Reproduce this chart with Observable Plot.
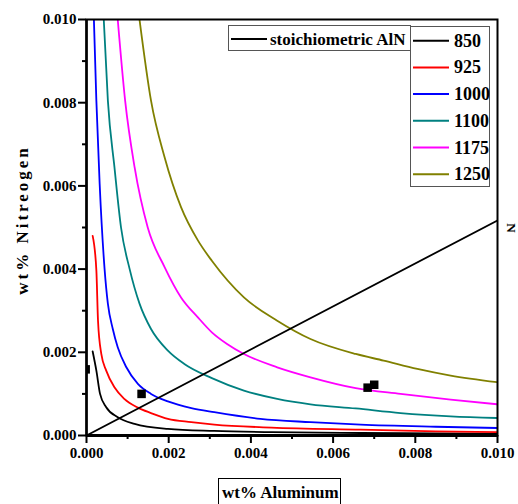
<!DOCTYPE html>
<html><head><meta charset="utf-8">
<script src="https://cdn.jsdelivr.net/npm/d3@7"></script>
<script src="https://cdn.jsdelivr.net/npm/@observablehq/plot@0.6"></script>
<style>body{margin:0;background:#fff;}#chart{position:relative;width:518px;height:504px;}</style>
</head><body><div id="chart"></div>
<script>
// Temperatures (°C)
const seriesNames = ["850", "925", "1000", "1100", "1175", "1250"];
const seriesColors = ["#000000", "#ff0000", "#0000ff", "#008080", "#ff00ff", "#808000"];

// wt% Al / wt% N
const al850 = [0.00015, 0.00024, 0.00033, 0.00048, 0.00076, 0.00117, 0.00198, 0.00311, 0.0045, 0.00667, 0.0085, 0.0100];
const n850  = [0.00202, 0.00156, 0.00100, 0.00068, 0.00044, 0.00028, 0.00016, 0.00011, 0.00008, 0.00006, 0.00005, 0.00004];
const al925 = [0.00015, 0.00024, 0.00028, 0.00036, 0.00048, 0.00068, 0.00092, 0.00125, 0.00157, 0.00198, 0.00255, 0.00311, 0.0045, 0.00667, 0.0085, 0.0100];
const n925  = [0.0048, 0.00397, 0.00276, 0.00196, 0.00156, 0.00116, 0.00088, 0.00067, 0.00054, 0.0004, 0.00032, 0.00026, 0.00019, 0.00014, 0.0001, 0.00008];
const al1000 = [0.00018, 0.00024, 0.00032, 0.00044, 0.00052, 0.00064, 0.00076, 0.00097, 0.00125, 0.00157, 0.00198, 0.00255, 0.00311, 0.00423, 0.00545, 0.00667, 0.0085, 0.0100];
const n1000  = [0.0100, 0.00805, 0.00605, 0.0040, 0.00317, 0.00256, 0.00212, 0.00164, 0.00124, 0.0010, 0.00082, 0.00066, 0.00056, 0.0004, 0.00032, 0.00026, 0.00021, 0.00018];
const al1100 = [0.00042, 0.00052, 0.00068, 0.00084, 0.00105, 0.00129, 0.00157, 0.00198, 0.00238, 0.00305, 0.00383, 0.00464, 0.00545, 0.00655, 0.00764, 0.00886, 0.0100];
const n1100  = [0.0100, 0.00805, 0.00645, 0.0050, 0.0040, 0.00317, 0.00256, 0.00204, 0.00172, 0.00138, 0.00108, 0.00088, 0.00075, 0.00065, 0.00054, 0.00046, 0.00042];
const al1175 = [0.00076, 0.00094, 0.00117, 0.00149, 0.0019, 0.0023, 0.00271, 0.00305, 0.00342, 0.00383, 0.00464, 0.00545, 0.00655, 0.00764, 0.00886, 0.0100];
const n1175  = [0.0100, 0.00805, 0.00645, 0.0050, 0.00405, 0.00332, 0.00284, 0.00248, 0.0022, 0.00196, 0.00164, 0.0014, 0.00114, 0.0010, 0.00086, 0.00075];
const al1250 = [0.00129, 0.00157, 0.0019, 0.0023, 0.00271, 0.00305, 0.00383, 0.00464, 0.00545, 0.00655, 0.00723, 0.00805, 0.00886, 0.0100];
const n1250  = [0.0100, 0.00805, 0.00669, 0.00549, 0.00469, 0.0042, 0.00332, 0.00276, 0.00232, 0.00196, 0.0018, 0.0016, 0.00144, 0.00128];

// stoichiometric AlN line
const stoichAl = [0, 0.0100];
const stoichN  = [0, 0.00517];

// measured points
const ptAl = [-0.00002, 0.00134, 0.00684, 0.0070];
const ptN  = [0.00159, 0.00100, 0.00115, 0.00122];

const majorTicks = [0, 0.002, 0.004, 0.006, 0.008, 0.010];
const minorTicks = [0.001, 0.003, 0.005, 0.007, 0.009];

const xs = [al850, al925, al1000, al1100, al1175, al1250];
const ys = [n850, n925, n1000, n1100, n1175, n1250];
const curves = seriesNames.flatMap((s, i) => xs[i].map((a, j) => ({series: s, al: a, n: ys[i][j]})));
const stoich = stoichAl.map((a, i) => ({al: a, n: stoichN[i]}));
const points = ptAl.map((a, i) => ({al: a, n: ptN[i]}));

const font = "'Liberation Serif', 'Times New Roman', serif";

const plot = Plot.plot({
  width: 518, height: 504,
  marginLeft: 86, marginRight: 21, marginTop: 19, marginBottom: 69,
  style: {fontFamily: font, fontWeight: "bold", fontSize: "15px", color: "#000", background: "#fff"},
  x: {domain: [0, 0.010]},
  y: {domain: [0, 0.010]},
  color: {domain: seriesNames, range: seriesColors},
  marks: [
    Plot.line(curves, {x: "al", y: "n", stroke: "series", strokeWidth: 1.8, curve: "monotone-x", clip: true}),
    Plot.line(stoich, {x: "al", y: "n", stroke: "#000", strokeWidth: 1.8, clip: true}),
    Plot.dot(points, {x: "al", y: "n", symbol: "square", r: 4.8, fill: "#000", clip: "frame"}),
    Plot.frame({stroke: "#000", strokeWidth: 2}),
    Plot.ruleY([0], {stroke: "#000", strokeWidth: 3}),
    Plot.ruleX([0], {stroke: "#000", strokeWidth: 2.5}),
    Plot.axisX(majorTicks, {tickSize: 8, tickPadding: 4, strokeWidth: 2, tickFormat: d3.format(".3f"), label: null, fontSize: 15}),
    Plot.axisX(minorTicks, {tickSize: 4, strokeWidth: 2, tickFormat: () => "", label: null}),
    Plot.axisY(majorTicks, {tickSize: 8, tickPadding: 2, strokeWidth: 2, tickFormat: d3.format(".3f"), label: null, fontSize: 15}),
    Plot.axisY(minorTicks, {tickSize: 4, strokeWidth: 2, tickFormat: () => "", label: null})
  ]
});
document.getElementById("chart").appendChild(plot);

const svg = d3.select(plot);
function txt(g, x, y, size, s, anchor) {
  return g.append("text").attr("x", x).attr("y", y).attr("text-anchor", anchor || "start")
    .attr("font-family", font).attr("font-weight", "bold").attr("font-size", size).attr("fill", "#000").text(s);
}
// legend: stoichiometric
const g1 = svg.append("g");
g1.append("rect").attr("x", 228.5).attr("y", 25.5).attr("width", 182).attr("height", 25).attr("fill", "#fff").attr("stroke", "#555").attr("stroke-width", 1);
g1.append("line").attr("x1", 231).attr("x2", 267).attr("y1", 39).attr("y2", 39).attr("stroke", "#000").attr("stroke-width", 2);
txt(g1, 270, 44.5, 17, "stoichiometric AlN");
// legend: temperatures
const g2 = svg.append("g");
g2.append("rect").attr("x", 410.5).attr("y", 26.5).attr("width", 79).attr("height", 160).attr("fill", "#fff").attr("stroke", "#555").attr("stroke-width", 1);
seriesNames.forEach((s, i) => {
  const yy = 40.7 + i * 26.7;
  g2.append("line").attr("x1", 413).attr("x2", 449).attr("y1", yy).attr("y2", yy).attr("stroke", seriesColors[i]).attr("stroke-width", 2);
  txt(g2, 454, yy + 6, 18, s);
});
// y-axis label
svg.append("text").attr("transform", "translate(28,220) rotate(-90)").attr("text-anchor", "middle")
  .attr("font-family", font).attr("font-weight", "bold").attr("font-size", 17).attr("letter-spacing", "3px").attr("fill", "#000")
  .text("wt% Nitreogen");
// right-hand label fragment
svg.append("text").attr("transform", "translate(507,228) rotate(90)").attr("text-anchor", "middle")
  .attr("font-family", font).attr("font-weight", "bold").attr("font-size", 13).attr("fill", "#000").text("N");
// x-axis label box
const g3 = svg.append("g");
g3.append("rect").attr("x", 218.5).attr("y", 478.5).attr("width", 122).attr("height", 30).attr("fill", "#fff").attr("stroke", "#000").attr("stroke-width", 1);
txt(g3, 222, 498, 17, "wt% Aluminum");
</script>
</body></html>
